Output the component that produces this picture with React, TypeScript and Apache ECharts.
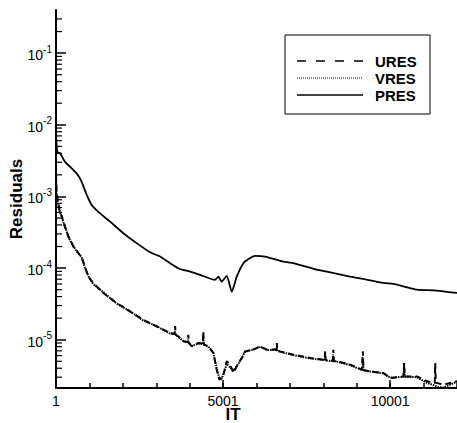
import React, { useEffect, useRef } from "react";
import * as echarts from "echarts";

const SERIES_NAMES = ["URES", "VRES", "PRES"];
const X_NAME = "IT";
const Y_NAME = "Residuals";

const PRES_IT = [1, 10, 40, 120, 270, 420, 620, 770, 920, 1070, 1320, 1620, 2015, 2415, 2815, 3115, 3415, 3710, 4010, 4310, 4760, 4860, 4960, 5110, 5260, 5410, 5610, 5810, 5960, 6260, 6805, 7105, 7805, 8105, 8800, 9100, 9800, 10100, 10800, 11300, 12001];
const PRES = [6.5e-3, 6.1e-3, 4.2e-3, 4.0e-3, 3.05e-3, 2.6e-3, 2.1e-3, 1.6e-3, 1.05e-3, 7.6e-4, 5.8e-4, 4.45e-4, 3.07e-4, 2.23e-4, 1.66e-4, 1.45e-4, 1.17e-4, 9.7e-5, 8.95e-5, 8.05e-5, 6.86e-5, 7.6e-5, 6.5e-5, 7.8e-5, 4.7e-5, 7.6e-5, 1.17e-4, 1.38e-4, 1.48e-4, 1.44e-4, 1.23e-4, 1.17e-4, 9.5e-5, 8.95e-5, 7.6e-5, 7.2e-5, 6.2e-5, 6.0e-5, 5.0e-5, 4.9e-5, 4.5e-5];

const LOW_IT = [1, 20, 70, 120, 170, 270, 370, 420, 520, 620, 770, 870, 965, 1115, 1415, 1815, 2215, 2615, 3015, 3415, 3550, 3565, 3580, 3660, 3810, 3945, 3960, 3975, 4065, 4260, 4395, 4410, 4425, 4560, 4710, 4810, 4890, 4990, 5110, 5210, 5310, 5410, 5560, 5660, 5905, 6110, 6310, 6595, 6610, 6625, 6705, 7105, 7605, 8005, 8040, 8055, 8070, 8285, 8300, 8315, 8405, 8800, 9150, 9170, 9185, 9200, 9400, 9800, 10000, 10400, 10420, 10435, 10800, 11100, 11335, 11350, 11365, 11400, 11600, 12001];
const URES = [2.0e-3, 1.1e-3, 8.0e-4, 5.8e-4, 5.4e-4, 3.8e-4, 2.75e-4, 2.5e-4, 2.0e-4, 1.75e-4, 1.4e-4, 1.05e-4, 7.6e-5, 6.2e-5, 4.5e-5, 3.25e-5, 2.48e-5, 1.9e-5, 1.53e-5, 1.24e-5, 1.2e-5, 1.55e-5, 1.18e-5, 1.11e-5, 9.5e-6, 9.3e-6, 1.17e-5, 9.0e-6, 8.1e-6, 9.0e-6, 8.8e-6, 1.31e-5, 8.6e-6, 8.1e-6, 6.5e-6, 3.8e-6, 2.77e-6, 2.92e-6, 5.0e-6, 4.5e-6, 3.44e-6, 4.25e-6, 5.56e-6, 6.87e-6, 7.26e-6, 8.07e-6, 7.26e-6, 7.3e-6, 9.0e-6, 7.1e-6, 6.87e-6, 6.18e-6, 5.56e-6, 5.26e-6, 5.2e-6, 6.87e-6, 5.2e-6, 5.1e-6, 7.26e-6, 5.05e-6, 5.0e-6, 4.5e-6, 3.82e-6, 3.8e-6, 6.87e-6, 3.78e-6, 3.61e-6, 3.43e-6, 2.92e-6, 3.08e-6, 4.73e-6, 3.08e-6, 3.08e-6, 2.63e-6, 2.5e-6, 4.73e-6, 2.5e-6, 2.49e-6, 2.36e-6, 2.63e-6];
const VRES = [1.8e-3, 1.0e-3, 7.6e-4, 6.0e-4, 5.2e-4, 3.7e-4, 2.8e-4, 2.45e-4, 2.05e-4, 1.7e-4, 1.42e-4, 1.0e-4, 7.8e-5, 6.0e-5, 4.6e-5, 3.2e-5, 2.5e-5, 1.85e-5, 1.55e-5, 1.22e-5, 1.21e-5, 1.3e-5, 1.19e-5, 1.1e-5, 9.6e-6, 9.2e-6, 1.0e-5, 9.1e-6, 8.2e-6, 8.8e-6, 8.7e-6, 1.1e-5, 8.5e-6, 8.0e-6, 6.6e-6, 4.0e-6, 2.85e-6, 3.1e-6, 4.6e-6, 4.1e-6, 3.7e-6, 4.3e-6, 5.5e-6, 6.8e-6, 7.3e-6, 8.0e-6, 7.2e-6, 7.2e-6, 8.0e-6, 7.0e-6, 6.8e-6, 6.1e-6, 5.5e-6, 5.2e-6, 5.15e-6, 6.0e-6, 5.15e-6, 5.0e-6, 6.2e-6, 5.0e-6, 4.95e-6, 4.45e-6, 3.8e-6, 3.75e-6, 5.5e-6, 3.75e-6, 3.6e-6, 3.4e-6, 2.95e-6, 3.05e-6, 4.0e-6, 3.05e-6, 3.0e-6, 2.5e-6, 2.3e-6, 2.3e-6, 2.25e-6, 2.2e-6, 2.15e-6, 2.6e-6];

const X_MIN_IT = 1;
const X_MAX_IT = 12001;
const Y_MIN = 2.12e-6;
const Y_MAX = 0.4;
const DECADES = [1e-6, 1e-5, 1e-4, 1e-3, 1e-2, 1e-1];
const MINOR_MULTS = [2, 3, 4, 5, 6, 7, 8, 9];

const FONT = "'Liberation Sans', Arial, Helvetica, sans-serif";

function toPairs(its: number[], vals: number[]) {
  return its.map((it, i) => [it - X_MIN_IT, vals[i]]);
}

export default function App() {
  const ref = useRef<HTMLDivElement>(null);
  useEffect(() => {
    if (!ref.current) return;
    const chart = echarts.init(ref.current, null, { renderer: "svg" });
    const minorTicks: number[][] = [];
    DECADES.forEach((d) =>
      MINOR_MULTS.forEach((m) => {
        const v = d * m;
        if (v > Y_MIN && v < Y_MAX) minorTicks.push([0, v]);
      })
    );
    const xMax = X_MAX_IT - X_MIN_IT;
    const option: any = {
      animation: false,
      backgroundColor: "#fff",
      grid: { left: 56, right: 0, top: 10, bottom: 35, containLabel: false, outerBoundsMode: "none" },
      xAxis: [
        {
          type: "value",
          min: 0,
          max: xMax,
          interval: 5000,
          position: "bottom",
          axisLine: { show: true, lineStyle: { color: "#000", width: 2 } },
          axisTick: { show: true, inside: true, length: 8, lineStyle: { color: "#000", width: 1.5 } },
          axisLabel: {
            fontFamily: FONT,
            fontSize: 14,
            color: "#000",
            margin: 6,
            showMaxLabel: false,
            formatter: (v: number) => (v % 5000 === 0 ? String(v + X_MIN_IT) : ""),
          },
          splitLine: { show: false },
        },
        {
          type: "value",
          min: 0,
          max: xMax,
          interval: 1000,
          position: "bottom",
          axisLine: { show: false },
          axisTick: { show: true, inside: true, length: 5, lineStyle: { color: "#000", width: 1.5 } },
          axisLabel: { show: false },
          splitLine: { show: false },
        },
      ],
      yAxis: {
        type: "log",
        logBase: 10,
        min: Y_MIN,
        max: Y_MAX,
        name: Y_NAME,
        nameLocation: "middle",
        nameGap: 31,
        nameMoveOverlap: false,
        nameTextStyle: { fontFamily: FONT, fontWeight: "bold", fontSize: 17, color: "#000" },
        axisLine: { show: true, lineStyle: { color: "#000", width: 2 } },
        axisTick: { show: true, inside: true, length: 10, lineStyle: { color: "#000", width: 1.5 } },
        axisLabel: {
          fontFamily: FONT,
          color: "#000",
          margin: 4,
          showMinLabel: false,
          showMaxLabel: false,
          formatter: (v: number) => {
            const l = Math.log10(v);
            const e = Math.round(l);
            if (Math.abs(l - e) > 1e-6) return "";
            return `{b|10}{s|${e}}`;
          },
          rich: {
            b: { fontFamily: FONT, fontSize: 14, lineHeight: 18, verticalAlign: "bottom", color: "#000" },
            s: { fontFamily: FONT, fontSize: 10, lineHeight: 10, verticalAlign: "top", color: "#000" },
          },
        },
        splitLine: { show: false },
      },
      series: [
        {
          name: SERIES_NAMES[0],
          type: "line",
          data: toPairs(LOW_IT, URES),
          showSymbol: false,
          symbol: "none",
          lineStyle: { color: "#000", width: 2, type: [6, 4] },
        },
        {
          name: SERIES_NAMES[1],
          type: "line",
          data: toPairs(LOW_IT, VRES),
          showSymbol: false,
          symbol: "none",
          lineStyle: { color: "#000", width: 2, type: [1.5, 1] },
        },
        {
          name: SERIES_NAMES[2],
          type: "line",
          data: toPairs(PRES_IT, PRES),
          showSymbol: false,
          symbol: "none",
          smooth: 0.2,
          lineStyle: { color: "#000", width: 1.8 },
        },
        {
          type: "custom",
          data: minorTicks,
          clip: false,
          silent: true,
          renderItem: (_p: any, api: any) => {
            const pt = api.coord([api.value(0), api.value(1)]);
            return {
              type: "line",
              shape: { x1: pt[0], y1: pt[1], x2: pt[0] + 6, y2: pt[1] },
              style: { stroke: "#000", lineWidth: 1.2 },
            };
          },
        },
      ],
      graphic: [
        {
          type: "text",
          x: 233,
          y: 414,
          style: {
            text: X_NAME,
            fontFamily: FONT,
            fontWeight: "bold",
            fontSize: 17,
            lineHeight: 15,
            fill: "#000",
            align: "center",
            verticalAlign: "middle",
          },
        },
        {
          type: "rect",
          shape: { x: 285, y: 35, width: 145, height: 79 },
          style: { fill: "#fff", stroke: "#000", lineWidth: 1 },
          z: 100,
        },
        {
          type: "line",
          shape: { x1: 297, y1: 61, x2: 363, y2: 61 },
          style: { stroke: "#000", lineWidth: 1.5, lineDash: [9, 10] },
          z: 101,
        },
        {
          type: "line",
          shape: { x1: 297, y1: 78, x2: 363, y2: 78 },
          style: { stroke: "#000", lineWidth: 1.2, lineDash: [1, 1] },
          z: 101,
        },
        {
          type: "line",
          shape: { x1: 297, y1: 95, x2: 363, y2: 95 },
          style: { stroke: "#000", lineWidth: 1.5 },
          z: 101,
        },
        ...SERIES_NAMES.map((n, i) => ({
          type: "text",
          x: 375,
          y: 61 + i * 17,
          style: {
            text: n,
            fontFamily: FONT,
            fontWeight: "bold",
            fontSize: 15,
            fill: "#000",
            verticalAlign: "middle",
          },
          z: 101,
        })),
      ],
    };
    chart.setOption(option);
    return () => chart.dispose();
  }, []);
  return (
    <div
      ref={ref}
      style={{ position: "fixed", left: 0, top: 0, width: 457, height: 423, background: "#fff" }}
    />
  );
}
